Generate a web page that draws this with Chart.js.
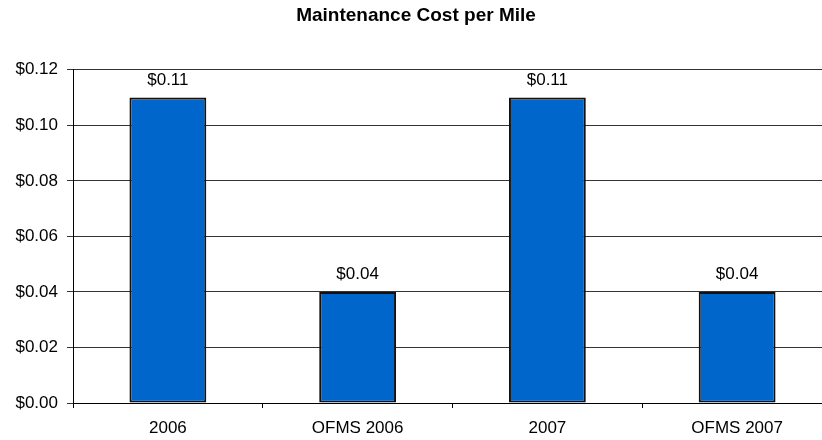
<!DOCTYPE html>
<html>
<head>
<meta charset="utf-8">
<script src="https://cdn.jsdelivr.net/npm/chart.js@4/dist/chart.umd.min.js"></script>
<style>
  html, body { margin: 0; padding: 0; background: #fff; }
  #wrap { width: 822px; height: 440px; overflow: hidden; position: relative; }
  canvas { display: block; }
</style>
</head>
<body>
<div id="wrap"><canvas id="c" width="840" height="440"></canvas></div>
<script>
const chartTitle = "Maintenance Cost per Mile";
const categories = ["2006", "OFMS 2006", "2007", "OFMS 2007"];
const costPerMile = [0.11, 0.04, 0.11, 0.04];
const yTickValues = [0.00, 0.02, 0.04, 0.06, 0.08, 0.10, 0.12];

const FONT = "'Liberation Sans', Arial, sans-serif";
const fmt = v => '$' + Number(v).toFixed(2);

const valueLabels = {
  id: 'valueLabels',
  afterDatasetsDraw(chart) {
    const ctx = chart.ctx;
    ctx.save();
    ctx.font = "17px " + FONT;
    ctx.fillStyle = '#000';
    ctx.textAlign = 'center';
    ctx.textBaseline = 'alphabetic';
    const meta = chart.getDatasetMeta(0);
    meta.data.forEach((bar, i) => {
      ctx.fillText(fmt(chart.data.datasets[0].data[i]), bar.x, bar.y - 13);
    });
    ctx.restore();
  }
};

new Chart(document.getElementById('c'), {
  type: 'bar',
  data: {
    labels: categories,
    datasets: [{
      data: costPerMile,
      backgroundColor: '#0066CC',
      borderColor: '#111',
      borderWidth: 2,
      borderSkipped: false,
      barPercentage: 0.405,
      categoryPercentage: 1.0
    }]
  },
  options: {
    responsive: false,
    animation: false,
    devicePixelRatio: 1,
    layout: { padding: { left: 0, right: 8, top: 0, bottom: 0 } },
    plugins: {
      legend: { display: false },
      tooltip: { enabled: false },
      title: {
        display: true,
        text: chartTitle,
        color: '#000',
        font: { family: FONT, size: 19, weight: 'bold' },
        padding: { top: 4, bottom: 43 }
      }
    },
    scales: {
      x: {
        offset: true,
        grid: {
          display: true,
          offset: true,
          drawOnChartArea: false,
          drawTicks: true,
          tickLength: 5,
          color: '#000'
        },
        border: { display: true, color: '#000', width: 1 },
        ticks: {
          color: '#000',
          font: { family: FONT, size: 17 },
          padding: 10,
          maxRotation: 0,
          autoSkip: false
        },
        afterFit(scale) { scale.height = 37; }
      },
      y: {
        min: 0,
        max: 0.12,
        afterBuildTicks(scale) { scale.ticks = yTickValues.map(v => ({ value: v })); },
        grid: {
          color: '#333',
          lineWidth: 1,
          drawTicks: true,
          tickLength: 6
        },
        border: { display: true, color: '#000', width: 1 },
        ticks: {
          color: '#000',
          font: { family: FONT, size: 17 },
          padding: 9,
          callback: v => fmt(v)
        },
        afterFit(scale) { scale.width = 73; }
      }
    }
  },
  plugins: [valueLabels]
});
</script>
</body>
</html>
